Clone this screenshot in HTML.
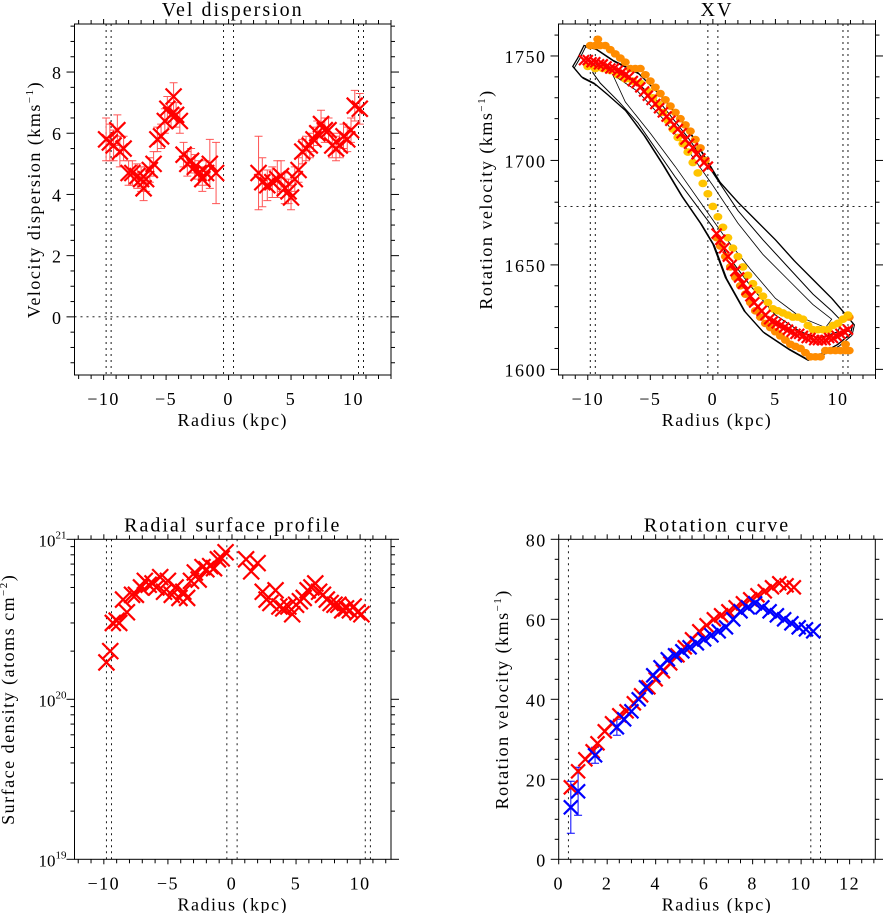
<!DOCTYPE html>
<html><head><meta charset="utf-8"><style>
html,body{margin:0;padding:0;background:#fff;}
svg{display:block;font-family:"Liberation Serif",serif;}
</style></head><body>
<svg id="fig" width="883" height="913" xmlns="http://www.w3.org/2000/svg"></svg>
<script>
// ---------- Panel 1: velocity dispersion ----------
const dispR = [-9.8,-9.5,-9.2,-8.9,-8.7,-8.4,-8.0,-7.7,-7.3,-7.0,-6.8,-6.6,-6.3,-6.0,-5.7,-5.4,-5.1,-4.9,-4.6,-4.4,-4.2,-3.9,-3.6,-3.3,-3.0,-2.7,-2.4,-2.1,-1.8,-1.5,-1.0,
 2.4,2.7,3.1,3.5,3.9,4.2,4.5,4.8,5.0,5.3,5.6,5.9,6.2,6.5,6.8,7.1,7.4,7.7,8.0,8.3,8.6,8.9,9.2,9.5,9.8,10.1,10.5];
const dispV = [5.8,5.7,5.6,6.1,5.4,5.5,4.7,4.7,4.6,4.5,4.2,4.5,4.8,5.0,5.8,5.9,6.4,6.8,6.6,7.2,6.6,6.4,5.3,5.0,5.1,4.9,4.7,4.5,4.7,5.0,4.7,
 4.7,4.4,4.3,4.4,4.5,4.6,4.2,4.1,3.9,4.5,4.8,5.4,5.5,5.6,5.8,6.0,6.3,6.1,6.1,5.6,5.5,5.6,5.9,5.8,6.1,6.9,6.8];
const dispE = [0.7,0.6,0.5,0.5,0.5,0.4,0.4,0.4,0.4,0.4,0.4,0.4,0.4,0.4,0.4,0.4,0.4,0.4,0.4,0.45,0.4,0.4,0.4,0.4,0.4,0.4,0.4,0.4,0.4,0.8,1.0,
 1.2,0.8,0.5,0.5,0.6,0.5,0.5,0.4,0.4,0.4,0.4,0.4,0.4,0.4,0.4,0.4,0.45,0.4,0.4,0.4,0.4,0.4,0.4,0.4,0.4,0.5,0.5];
// ---------- Panel 2: XV ----------
const xvRedR = [-10.3,-10.0,-9.7,-9.4,-9.1,-8.8,-8.5,-8.2,-7.9,-7.6,-7.3,-7.0,-6.7,-6.4,-6.1,-5.8,-5.5,-5.2,-4.9,-4.6,-4.3,-4.0,-3.7,-3.4,-3.1,-2.8,-2.5,-2.2,-1.9,-1.6,-1.3,-1.0,-0.7,-0.4,
 0.3,0.6,0.9,1.2,1.5,1.8,2.1,2.4,2.7,3.0,3.3,3.6,3.9,4.2,4.5,4.8,5.1,5.4,5.7,6.0,6.3,6.6,6.9,7.2,7.5,7.8,8.1,8.4,8.7,9.0,9.3,9.6,9.9,10.2,10.5,10.8];
const xvRedV = [1748,1748,1747,1747,1746,1746,1745,1744,1744,1743,1742,1741,1740,1738,1737,1735,1733,1731,1729,1727,1725,1723,1721,1719,1717,1715,1713,1710,1708,1706,1703,1701,1699,1697,
 1665,1662,1658,1654,1650,1647,1644,1641,1638,1635,1632,1630,1628,1626,1624,1623,1622,1621,1620,1619,1618,1617,1617,1616,1615,1615,1614,1614,1614,1614,1615,1615,1616,1617,1618,1619];
const xvOrangeR = [-9.2,-9.8,-9.4,-9.0,-8.6,-8.2,-7.8,-7.4,-7.0,-6.6,-6.2,-5.8,-5.4,-5.0,-4.6,-4.2,-3.8,-3.4,-3.0,-2.6,-2.2,-1.8,-1.4,-1.0,-0.6,
 0.3,0.6,1.0,1.4,1.8,2.2,2.6,3.0,3.4,3.8,4.2,4.6,5.0,5.4,5.8,6.2,6.6,7.0,7.4,7.8,8.2,8.6,9.0,9.4,9.8,10.2,10.6,10.9,10.6,10.9,10.0];
const xvOrangeV = [1758,1755,1755,1755,1755,1753,1751,1749,1747,1744,1744,1744,1741,1738,1735,1732,1729,1726,1723,1720,1717,1714,1710,1706,1700,
 1663,1659,1654,1649,1644,1640,1636,1632,1628,1625,1622,1620,1618,1616,1614,1612,1611,1610,1608,1606,1606,1606,1609,1609,1609,1609,1609,1609,1612,1625,1622];
const xvYellowR = [-10.0,-9.4,-8.8,-8.2,-7.6,-7.0,-6.4,-5.8,-5.2,-4.8,-4.4,-4.0,-3.6,-3.2,-2.8,-2.4,-2.0,-1.6,-1.2,-0.8,-0.4,0.0,0.4,0.8,1.2,1.6,2.0,2.4,2.8,3.2,3.6,4.0,4.4,4.8,5.2,5.6,6.0,6.4,6.8,7.2,7.6,8.0,8.4,8.8,9.2,9.6,10.0,10.4,10.8];
const xvYellowV = [1745,1744,1744,1743,1741,1739,1738,1737,1733,1730,1727,1723,1719,1715,1711,1708,1704,1699,1694,1689,1684,1678,1673,1668,1663,1658,1654,1649,1645,1641,1638,1635,1632,1629,1628,1627,1626,1625,1625,1624,1621,1619,1619,1619,1619,1621,1622,1624,1626];
const contourOuterR = [-10.3,-9.5,-8,-6,-4,-2,-0.5,0.5,2,3.5,5,6.5,8,9.5,10.5,11.2,11,10,8.5,7.5,6,4,2.5,1,0,-1,-2.5,-4,-5.5,-7,-8.5,-9.5,-10.5,-11.2,-10.8,-10.3];
const contourOuterV = [1755,1754,1748,1742,1730,1715,1700,1690,1680,1671,1662,1652,1643,1634,1627,1622,1617,1612,1607,1605,1610,1618,1628,1644,1660,1670,1683,1698,1712,1724,1732,1737,1740,1745,1749,1755];
const contourInnerR = [-9.2,-8,-6,-4,-2,0,2,4,6,8,9.5,10.3,10,8.5,7,5,3,1,0,-1.5,-3,-4.5,-6,-7.5,-9,-9.6,-9.2];
const contourInnerV = [1748,1744,1737,1726,1711,1694,1676,1662,1649,1636,1628,1623,1618,1615,1618,1626,1640,1656,1668,1680,1692,1705,1718,1728,1737,1742,1748];
const contourCoreR = [-8,-6,-4,-2,0,2,4,6,8,9.5,9,7,5,3,1,-1,-3,-5,-7,-8];
const contourCoreV = [1741,1733,1720,1705,1688,1670,1655,1643,1631,1624,1620,1625,1634,1648,1663,1680,1697,1713,1728,1741];
// ---------- Panel 3: surface density (units of 1e20) ----------
const sdR = [-9.8,-9.5,-9.3,-9.0,-8.8,-8.5,-8.2,-7.8,-7.5,-7.1,-6.8,-6.5,-6.2,-5.9,-5.6,-5.3,-5.0,-4.7,-4.4,-4.1,-3.8,-3.5,-3.2,-2.9,-2.6,-2.3,-2.0,-1.7,-1.4,-1.1,-0.8,-0.5,
 1.1,1.5,2.0,2.4,2.7,3.0,3.4,3.7,4.0,4.4,4.7,5.0,5.3,5.6,5.9,6.2,6.5,6.8,7.1,7.4,7.7,8.0,8.3,8.6,8.9,9.2,9.5,9.8,10.1];
const sdV = [1.7,2.0,3.0,3.1,3.0,4.2,3.5,4.5,4.5,5.0,5.5,5.2,5.3,5.0,5.8,4.7,5.5,4.5,5.0,4.3,4.7,4.3,5.5,6.2,5.6,6.7,6.5,6.8,6.6,7.5,7.6,8.3,
 7.5,6.3,7.1,4.7,4.2,4.0,4.8,3.8,3.7,3.8,3.4,3.9,4.1,4.3,4.8,5.0,5.3,4.7,4.5,4.2,4.0,3.9,3.9,3.6,3.7,3.6,3.8,3.5,3.4];
// ---------- Panel 4: rotation curve ----------
const rcRedR = [0.5,0.8,1.1,1.4,1.6,1.9,2.2,2.5,2.8,3.1,3.4,3.7,4.0,4.3,4.6,4.9,5.2,5.5,5.8,6.1,6.4,6.7,7.0,7.3,7.6,7.9,8.2,8.5,8.8,9.1,9.4,9.7];
const rcRedV = [18,22,25,27,29,32,34,36,37,39,41,43,45,47,49,51,53,55,57,58.5,60,61,62,63,64,65,66,67,68,69,68.5,68];
const rcBlueR = [0.5,0.8,1.5,2.4,2.7,3.0,3.3,3.6,3.9,4.2,4.5,4.8,5.1,5.4,5.7,6.0,6.3,6.6,6.9,7.2,7.5,7.8,8.1,8.4,8.7,9.0,9.3,9.6,9.9,10.2,10.5];
const rcBlueV = [13,17,26,33,35,37,40,43,46,48,50,51,52,53,54,55,56,57,58,60,62,63,64,63,62,61,60,59,58,57.5,57];
const rcBlueE = [6.5,6,2,2,0,0,0,0,0,0,0,0,0,0,0,0,0,0,0,0,0,0,0,0,0,0,0,0,0,0,0];

const NS='http://www.w3.org/2000/svg';
const svg=document.getElementById('fig');
function el(tag,attrs,parent,name){const e=document.createElementNS(NS,tag);for(const k in attrs)e.setAttribute(k,attrs[k]);
 
 
 (parent||svg).appendChild(e);return e;}
function txt(s,x,y,size,parent,name,extra){const t=el('text',Object.assign({x:x,y:y,'font-size':size,'text-anchor':'middle',fill:'#000','letter-spacing':1.5},extra||{}),parent,name);t.textContent=s;return t;}

function panel(o){
 const g=el('g',{},svg,o.name);
 const sx=v=>o.x0+(v-o.xmin)/(o.xmax-o.xmin)*(o.x1-o.x0);
 const sy=o.log? v=>o.y1-(Math.log10(v)-o.ymin)/(o.ymax-o.ymin)*(o.y1-o.y0) : v=>o.y1-(v-o.ymin)/(o.ymax-o.ymin)*(o.y1-o.y0);
 el('rect',{x:o.x0,y:o.y0,width:o.x1-o.x0,height:o.y1-o.y0,fill:'none',stroke:'#000','stroke-width':1},g,'plot-frame');
 for(let v=Math.ceil(o.xmin/o.xminor)*o.xminor; v<=o.xmax+1e-9; v+=o.xminor){
  const major=Math.abs(v/o.xmajor-Math.round(v/o.xmajor))<1e-6; const X=sx(v);
  el('line',{x1:X,y1:o.y1,x2:X,y2:o.y1+(major?5:4),stroke:'#000'},g,'x-tick');
  el('line',{x1:X,y1:o.y0,x2:X,y2:o.y0-(major?5:4),stroke:'#000'},g,'x-tick-top');
  if(major){const lab=Math.round(v); txt(lab<0?'\u2212'+(-lab):''+lab,X,o.y1+30,18,g,'x-tick-label');}
 }
 const yt=[];
 if(o.log){for(let d=o.ymin; d<o.ymax; d++){for(let m=1;m<10;m++)yt.push([Math.pow(10,d)*m,m===1,d]);} yt.push([Math.pow(10,o.ymax),true,o.ymax]);}
 else{for(let v=Math.ceil(o.ymin/o.yminor)*o.yminor; v<=o.ymax+1e-9; v+=o.yminor){yt.push([v,Math.abs(v/o.ymajor-Math.round(v/o.ymajor))<1e-6]);}}
 yt.forEach(t=>{const Y=o.log?o.y1-(Math.log10(t[0])-o.ymin)/(o.ymax-o.ymin)*(o.y1-o.y0):sy(t[0]); const L=t[1]?8:4;
  el('line',{x1:o.x0,y1:Y,x2:o.x0-L+ (t[1]?0:0),y2:Y,stroke:'#000'},g,'y-tick');
  el('line',{x1:o.x1,y1:Y,x2:o.x1+L,y2:Y,stroke:'#000'},g,'y-tick-right');
  if(t[1]){
   if(o.log){const tt=txt('10',o.x0-22,Y+7,17,g,'y-tick-label',{'letter-spacing':0}); const s=el('tspan',{dy:-8,'font-size':11},tt,'y-tick-exponent'); s.textContent=''+t[2];}
   else txt(''+Math.round(t[0]),o.x0-12,Y+7,18,g,'y-tick-label',{'text-anchor':'end'});
  }
 });
 txt(o.title,(o.x0+o.x1)/2,o.y0-8,20,g,'panel-title',{'letter-spacing':2});
 txt('Radius (kpc)',(o.x0+o.x1)/2,o.y1+51,18,g,'x-axis-title');
 const yl=el('text',{x:0,y:0,'font-size':18,'text-anchor':'middle','letter-spacing':1.5,transform:`translate(${o.ylabX},${(o.y0+o.y1)/2}) rotate(-90)`},g,'y-axis-title');
 yl.textContent=o.ylab1; const sp=el('tspan',{dy:-7,'font-size':11},yl,'y-axis-title-exponent'); sp.textContent=o.ysup; const sp2=el('tspan',{dy:7},yl,'y-axis-title-end'); sp2.textContent=')';
 const clip='clip-'+o.name; const cp=el('clipPath',{id:clip},g,'clip'); el('rect',{x:o.x0,y:o.y0,width:o.x1-o.x0,height:o.y1-o.y0},cp,'clip-rect');
 const inner=el('g',{'clip-path':`url(#${clip})`},g,'plot-area');
 (o.vlines||[]).forEach(v=>el('line',{x1:sx(v),y1:o.y0,x2:sx(v),y2:o.y1,stroke:'#000','stroke-width':0.9,'stroke-dasharray':'2,4'},inner,'dotted-vline'));
 (o.hlines||[]).forEach(v=>el('line',{x1:o.x0,y1:sy(v),x2:o.x1,y2:sy(v),stroke:'#000','stroke-width':0.9,'stroke-dasharray':'2,4'},inner,'dotted-hline'));
 return {g:inner,sx,sy};
}
function cross(p,x,y,col,s,name){el('path',{d:`M${x-s},${y-s}L${x+s},${y+s}M${x-s},${y+s}L${x+s},${y-s}`,stroke:col,'stroke-width':2.2,fill:'none'},p.g,name);}
function errbar(p,x,y0,y1,col,name){el('path',{d:`M${x},${y0}L${x},${y1}M${x-4},${y0}L${x+4},${y0}M${x-4},${y1}L${x+4},${y1}`,stroke:col,'stroke-width':1,fill:'none'},p.g,name);}

// Panel 1
const p1=panel({name:'vel-dispersion-panel',x0:74.5,x1:391,y0:24,y1:375,xmin:-12.33,xmax:13.0,ymin:-1.9,ymax:9.57,xmajor:5,xminor:1,ymajor:2,yminor:0.5,
 title:'Vel dispersion',ylab1:'Velocity dispersion (kms',ysup:'\u22121',ylabX:40,vlines:[-9.8,-9.4,-0.4,0.4,10.4,10.8],hlines:[0]});
dispR.forEach((r,i)=>errbar(p1,p1.sx(r),p1.sy(dispV[i]-dispE[i]),p1.sy(dispV[i]+dispE[i]),'#f55','dispersion-errorbar'));
dispR.forEach((r,i)=>cross(p1,p1.sx(r),p1.sy(dispV[i]),'#f00',8,'dispersion-point'));

// Panel 2
const p2=panel({name:'xv-panel',x0:558.5,x1:875.5,y0:24,y1:375,xmin:-12.34,xmax:13.0,ymin:1597.3,ymax:1765.3,xmajor:5,xminor:1,ymajor:50,yminor:10,
 title:'XV',ylab1:'Rotation velocity (kms',ysup:'\u22121',ylabX:492,vlines:[-9.8,-9.4,-0.4,0.4,10.4,10.8],hlines:[1678]});
function poly(p,R,V,off,w,name){el('path',{d:R.map((r,i)=>(i?'L':'M')+(p.sx(r)+off)+','+(p.sy(V[i])+off)).join('')+'Z',fill:'none',stroke:'#000','stroke-width':w},p.g,name);}
poly(p2,contourOuterR,contourOuterV,0,1.3,'contour-outer');
poly(p2,contourOuterR,contourOuterV,1.5,1,'contour-outer-2');
poly(p2,contourInnerR,contourInnerV,0,1,'contour-inner');
poly(p2,contourCoreR,contourCoreV,0,0.8,'contour-core');
xvOrangeR.forEach((r,i)=>el('ellipse',{cx:p2.sx(r),cy:p2.sy(xvOrangeV[i]),rx:4.5,ry:3.8,fill:'#ff8c00'},p2.g,'orange-dot'));
xvYellowR.forEach((r,i)=>el('ellipse',{cx:p2.sx(r),cy:p2.sy(xvYellowV[i]),rx:4.5,ry:3.8,fill:'#ffc400'},p2.g,'yellow-dot'));
xvRedR.forEach((r,i)=>cross(p2,p2.sx(r),p2.sy(xvRedV[i]),'#f00',5,'xv-red-cross'));

// Panel 3
const p3=panel({name:'surface-profile-panel',x0:74.5,x1:391,y0:539.3,y1:859.3,xmin:-12.29,xmax:12.41,ymin:19,ymax:21,log:true,xmajor:5,xminor:1,
 title:'Radial surface profile',ylab1:'Surface density (atoms cm',ysup:'\u22122',ylabX:14,vlines:[-9.8,-9.4,-0.4,0.4,10.4,10.8]});
sdR.forEach((r,i)=>cross(p3,p3.sx(r),p3.sy(sdV[i]*1e20),'#f00',8,'surface-density-point'));

// Panel 4
const p4=panel({name:'rotation-curve-panel',x0:558.7,x1:875.3,y0:539.3,y1:859.3,xmin:0,xmax:13.06,ymin:0,ymax:80,xmajor:2,xminor:0.5,ymajor:20,yminor:5,
 title:'Rotation curve',ylab1:'Rotation velocity (kms',ysup:'\u22121',ylabX:508,vlines:[0.4,10.4,10.8]});
rcBlueR.forEach((r,i)=>{if(rcBlueE[i]>0)errbar(p4,p4.sx(r),p4.sy(rcBlueV[i]-rcBlueE[i]),p4.sy(rcBlueV[i]+rcBlueE[i]),'#00f','blue-errorbar');});
rcRedR.forEach((r,i)=>cross(p4,p4.sx(r),p4.sy(rcRedV[i]),'#f00',7,'approaching-side-point'));
rcBlueR.forEach((r,i)=>cross(p4,p4.sx(r),p4.sy(rcBlueV[i]),'#00f',7,'receding-side-point'));
</script>
</body></html>
